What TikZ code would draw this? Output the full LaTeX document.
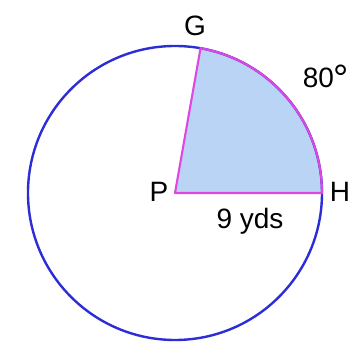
\documentclass[tikz,border=0pt]{standalone}
\usepackage{fontspec}
\setmainfont{Liberation Sans}
\definecolor{rimblue}{RGB}{45,45,215}
\definecolor{sectpink}{RGB}{225,70,225}
\definecolor{sectfill}{RGB}{185,212,245}
\begin{document}
\begin{tikzpicture}[x=1pt,y=1pt,
  lbl/.style={font=\fontsize{28}{32}\selectfont,inner sep=0pt}]
 \useasboundingbox (0,0) rectangle (360,343);
 \coordinate (P) at (175,150);
 \coordinate (H) at ([shift={(0:147)}]P);
 \coordinate (G) at ([shift={(80:147)}]P);
 % sector
 \fill[sectfill] (P) -- (H) arc (0:80:147) -- cycle;
 \draw[rimblue,line width=2.4pt] (P) circle (147);
 \draw[sectpink,line width=2.1pt,line join=round] (P) -- (H) arc (0:80:147) -- cycle;
 % labels
 \node[lbl] (labG) at (195,317) {G};
 \node[lbl] (labArc) at (326,265) {80\raisebox{-4pt}{\fontsize{38}{38}\selectfont °}};
 \node[lbl] (labP) at (159,151) {P};
 \node[lbl] (labH) at (340,151) {H};
 \node[lbl] (labR) at (250,122) {9 yds};
\end{tikzpicture}
\end{document}
